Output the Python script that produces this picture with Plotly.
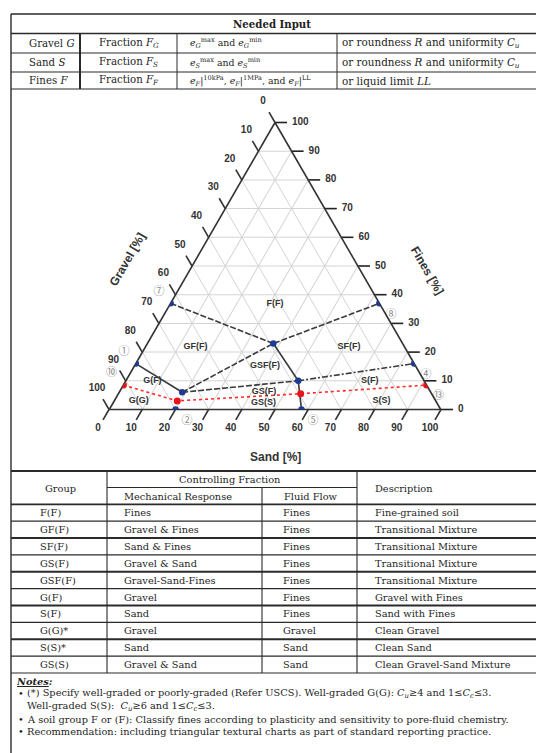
import plotly.graph_objects as go

W, H = 536, 753

# ---------------- ternary chart data (percent) ----------------
# key boundary points (blue)
pt_ids = ["①", "②", "③", "④", "⑤", "⑥", "⑦", "⑧", "⑨"]
pt_gravel = [84, 80, 75, 0, 42, 38, 63, 0, 39]
pt_sand = [0, 20, 19, 84, 58, 52, 0, 63, 38]
pt_fines = [16, 0, 6, 16, 0, 10, 37, 37, 23]
pt_textpos = ["top left", "bottom right", "top center", "bottom right",
              "bottom right", "top right", "top left", "bottom right", "top center"]

# clean / with-fines limit points (red)
red_ids = ["⑩", "⑪", "⑫", "⑬"]
red_gravel = [91.5, 78, 39.5, 0]
red_sand = [0, 19, 55, 91.5]
red_fines = [8.5, 3, 5.5, 8.5]
red_textpos = ["top left", "middle right", "bottom right", "bottom right"]

# zone boundaries, as index chains into the blue points (1-based) and dash style
boundary_paths = [([1, 3], "solid"), ([7, 9], "6px,2px"), ([9, 6], "solid"),
                  ([6, 5], "solid"), ([3, 9, 8], "6px,2px"), ([3, 6], "6px,2px"),
                  ([6, 4], "6px,2px,2px,2px")]

# zone names and their centres
zone_names = ["F(F)", "GF(F)", "SF(F)", "GSF(F)", "G(F)", "GS(F)", "G(G)", "GS(S)", "S(F)", "S(S)"]
zone_gravel = [31.5, 63, 16.7, 45.4, 82, 50.2, 89.6, 52.3, 16.4, 16.3]
zone_sand = [31.5, 15, 61.4, 39.4, 8, 43.6, 7.3, 45.3, 73.6, 80.6]
zone_fines = [37, 22, 21.9, 15.2, 10, 6.2, 3.1, 2.4, 10, 3.1]

tick_values = [0, 10, 20, 30, 40, 50, 60, 70, 80, 90, 100]

# ---------------- table contents ----------------
input_title = "Needed Input"
input_component = ["Gravel <i>G</i>", "Sand <i>S</i>", "Fines <i>F</i>"]
input_fraction = ["Fraction <i>F<sub>G</sub></i>", "Fraction <i>F<sub>S</sub></i>",
                  "Fraction <i>F<sub>F</sub></i>"]
input_voids = ["<i>e<sub>G</sub></i><sup>max</sup> and <i>e<sub>G</sub></i><sup>min</sup>",
               "<i>e<sub>S</sub></i><sup>max</sup> and <i>e<sub>S</sub></i><sup>min</sup>",
               "<i>e<sub>F</sub></i>|<sup>10kPa</sup>, <i>e<sub>F</sub></i>|<sup>1MPa</sup>"
               ", and <i>e<sub>F</sub></i>|<sup>LL</sup>"]
input_alt = ["or roundness <i>R</i> and uniformity <i>C<sub>u</sub></i>",
             "or roundness <i>R</i> and uniformity <i>C<sub>u</sub></i>",
             "or liquid limit <i>LL</i>"]

groups = ["F(F)", "GF(F)", "SF(F)", "GS(F)", "GSF(F)", "G(F)", "S(F)", "G(G)*", "S(S)*", "GS(S)"]
mechanical = ["Fines", "Gravel &amp; Fines", "Sand &amp; Fines", "Gravel &amp; Sand",
              "Gravel-Sand-Fines", "Gravel", "Sand", "Gravel", "Sand", "Gravel &amp; Sand"]
fluid = ["Fines", "Fines", "Fines", "Fines", "Fines", "Fines", "Fines", "Gravel", "Sand", "Sand"]
description = ["Fine-grained soil", "Transitional Mixture", "Transitional Mixture",
               "Transitional Mixture", "Transitional Mixture", "Gravel with Fines",
               "Sand with Fines", "Clean Gravel", "Clean Sand", "Clean Gravel-Sand Mixture"]

notes = [
    "(*) Specify well-graded or poorly-graded (Refer USCS). Well-graded G(G): "
    "<i>C<sub>u</sub></i>≥4 and 1≤<i>C<sub>c</sub></i>≤3.",
    "A soil group F or (F): Classify fines according to plasticity and sensitivity to pore-fluid chemistry.",
    "Recommendation: including triangular textural charts as part of standard reporting practice.",
]
note_cont = "Well-graded S(S):  <i>C<sub>u</sub></i>≥6 and 1≤<i>C<sub>c</sub></i>≤3."

# ---------------- helpers ----------------
SERIF = "DejaVu Serif"
SANS = "Liberation Sans"
TXT = "#1e1e1e"
LINE = "#2a2a2a"


def X(px):
    return px / W


def Y(py):
    return 1 - py / H


shapes = []
annotations = []


def hline(y, x0, x1, w=1.0):
    shapes.append(dict(type="line", xref="paper", yref="paper", x0=X(x0), x1=X(x1),
                       y0=Y(y), y1=Y(y), line=dict(color=LINE, width=w)))


def vline(x, y0, y1, w=1.0):
    shapes.append(dict(type="line", xref="paper", yref="paper", x0=X(x), x1=X(x),
                       y0=Y(y0), y1=Y(y1), line=dict(color=LINE, width=w)))


def label(x, y, text, size=9.8, anchor="left", family=SERIF, color=TXT, angle=0):
    annotations.append(dict(xref="paper", yref="paper", x=X(x), y=Y(y), text=text,
                            showarrow=False, xanchor=anchor, yanchor="middle",
                            textangle=angle, font=dict(family=family, size=size, color=color)))


# ---------------- top table ----------------
RIGHT = 540
LEFT = 11
hline(14, LEFT, RIGHT, 1.4)
hline(33.5, LEFT, RIGHT, 1.4)
hline(53, LEFT, RIGHT, 1.2)
hline(72, LEFT, RIGHT, 1.2)
hline(89, LEFT, RIGHT, 1.2)
vline(LEFT, 14, 753, 1.4)
vline(80, 33.5, 89, 2.0)
vline(177, 33.5, 89, 1.0)
vline(337, 33.5, 89, 1.0)

label(272, 24.5, "<b>" + input_title + "</b>", anchor="center", size=10.2)
row_y = [43.3, 62.5, 80.5]
for i in range(3):
    label(27, row_y[i], input_component[i], size=10.2)
    label(97, row_y[i], input_fraction[i], size=10.2)
    label(188, row_y[i], input_voids[i], size=9.4)
    label(340, row_y[i], input_alt[i], size=10.4)

# ---------------- bottom table ----------------
hline(471, LEFT, RIGHT, 1.8)
hline(487.5, 107, 357, 1.0)
hline(504.3, LEFT, RIGHT, 1.8)
row_h = 16.87
thick_after = {1, 3, 5, 7}
for i in range(len(groups)):
    yb = 504.3 + (i + 1) * row_h
    hline(yb, LEFT, RIGHT, 2.0 if i in thick_after else 1.1)
table_bottom = 504.3 + len(groups) * row_h
vline(107, 471, table_bottom, 1.1)
vline(262, 487.5, table_bottom, 1.1)
vline(357, 471, table_bottom, 1.1)

label(43, 488, "Group")
label(230, 479, "Controlling Fraction", anchor="center")
label(122, 496.5, "Mechanical Response")
label(282, 496.5, "Fluid Flow")
label(373, 488, "Description")
for i in range(len(groups)):
    yc = 504.3 + (i + 0.5) * row_h
    label(38, yc, groups[i])
    label(122, yc, mechanical[i])
    label(281, yc, fluid[i])
    label(373, yc, description[i])

label(14, 681, "<b><i><u>Notes</u>:</i></b>")
label(16, 693.7, "•")
label(25, 693.7, notes[0])
label(25, 706, note_cont)
label(16, 719.3, "•")
label(25, 719.3, notes[1])
label(16, 731.7, "•")
label(25, 731.7, notes[2])

# ---------------- ternary chart ----------------
fig = go.Figure()

# triangle geometry on the page (px)
TRI_LEFT, TRI_RIGHT, TRI_BASE, TRI_TOP = 109, 441, 409.5, 122.5
PX_PER_UNIT = (TRI_RIGHT - TRI_LEFT) / 100.0

# boundaries
for chain, dash in boundary_paths:
    idx = [c - 1 for c in chain]
    fig.add_trace(go.Scatterternary(
        a=[pt_fines[i] for i in idx], b=[pt_gravel[i] for i in idx], c=[pt_sand[i] for i in idx],
        mode="lines", line=dict(color="#3a3a3a", width=1.6, dash=dash),
        hoverinfo="skip", showlegend=False))

# red dotted limit line
fig.add_trace(go.Scatterternary(
    a=red_fines, b=red_gravel, c=red_sand, mode="lines+markers",
    line=dict(color="#ff2a2a", width=1.6, dash="dot"),
    marker=dict(color="#e8141b", size=7),
    hoverinfo="skip", showlegend=False))

# blue points
fig.add_trace(go.Scatterternary(
    a=pt_fines, b=pt_gravel, c=pt_sand, mode="markers",
    marker=dict(color="#1d3a94", size=6.5),
    hoverinfo="skip", showlegend=False))

# zone names
fig.add_trace(go.Scatterternary(
    a=zone_fines, b=zone_gravel, c=zone_sand, mode="text", text=zone_names,
    textfont=dict(family=SANS, size=9, color="#333333", weight="bold"),
    hoverinfo="skip", showlegend=False))

axis_common = dict(min=0, showticklabels=False, ticks="", dtick=10, showgrid=True,
                   gridcolor="#d4d4d4", gridwidth=1, linecolor="#333333", linewidth=1.6,
                   layer="below traces", title=dict(text=""))

# ---- overlay cartesian axes sharing the ternary's plane: x = sand - gravel, y = fines
OV_L, OV_R, OV_T, OV_B = 55, 495, 92, 447
cx = (TRI_LEFT + TRI_RIGHT) / 2
upx = PX_PER_UNIT / 2                      # px per unit of (sand - gravel)
upy = (TRI_BASE - TRI_TOP) / 100.0         # px per unit of fines
x_range = [(OV_L - cx) / upx, (OV_R - cx) / upx]
y_range = [(TRI_BASE - OV_B) / upy, (TRI_BASE - OV_T) / upy]


def to_xy(gravel, sand, fines):
    return sand - gravel, fines


def seg_trace(starts, ends, color="#333333"):
    xs, ys = [], []
    for (g0, s0, f0), (g1, s1, f1) in zip(starts, ends):
        x0, y0 = to_xy(g0, s0, f0)
        x1, y1 = to_xy(g1, s1, f1)
        xs += [x0, x1, None]
        ys += [y0, y1, None]
    return go.Scatter(x=xs, y=ys, mode="lines", line=dict(color=color, width=1.6),
                      hoverinfo="skip", showlegend=False, cliponaxis=False)


t = 12 / PX_PER_UNIT  # tick length in percent units
# gravel ticks (left edge, along constant-gravel lines)
fig.add_trace(seg_trace([(g, 0, 100 - g) for g in tick_values],
                        [(g, -t, 100 - g + t) for g in tick_values]))
# sand ticks (bottom edge, along constant-sand lines)
fig.add_trace(seg_trace([(100 - s, s, 0) for s in tick_values],
                        [(100 - s + t, s, -t) for s in tick_values]))
# fines ticks (right edge, horizontal)
fig.add_trace(seg_trace([(0, 100 - f, f) for f in tick_values],
                        [(-t, 100 - f + t, f) for f in tick_values], color="#222222"))

tickfont = dict(family=SANS, size=10, color="#333333", weight="bold")


def tick_labels(points, pos="middle center"):
    xs, ys = zip(*[to_xy(*p) for p in points])
    return go.Scatter(x=list(xs), y=list(ys), mode="text", text=[str(v) for v in tick_values],
                      textposition=pos, textfont=tickfont, hoverinfo="skip",
                      showlegend=False, cliponaxis=False)


dg = 24 / PX_PER_UNIT
fig.add_trace(tick_labels([(g, -dg, 100 - g + dg) for g in tick_values]))
ds = 22 / PX_PER_UNIT
fig.add_trace(tick_labels([(100 - s + ds, s, -ds) for s in tick_values]))
df = 17 / PX_PER_UNIT
fig.add_trace(tick_labels([(-df, 100 - f + df, f) for f in tick_values], pos="middle right"))

# circled point numbers
circ_font = dict(family="Noto Sans CJK JP", size=11, color="#8a8a8a")
bx, by = zip(*[to_xy(g, s, f) for g, s, f in zip(pt_gravel, pt_sand, pt_fines)])
fig.add_trace(go.Scatter(x=list(bx), y=list(by), mode="markers+text", text=pt_ids,
                         textposition=pt_textpos, textfont=circ_font,
                         marker=dict(size=8, color="rgba(0,0,0,0)"),
                         hoverinfo="skip", showlegend=False, cliponaxis=False))
rx, ry = zip(*[to_xy(g, s, f) for g, s, f in zip(red_gravel, red_sand, red_fines)])
fig.add_trace(go.Scatter(x=list(rx), y=list(ry), mode="markers+text", text=red_ids,
                         textposition=red_textpos, textfont=circ_font,
                         marker=dict(size=8, color="rgba(0,0,0,0)"),
                         hoverinfo="skip", showlegend=False, cliponaxis=False))

label(127, 260, "<b>Gravel [%]</b>", size=12, anchor="center", family=SANS, color="#333", angle=-60)
label(427, 270, "<b>Fines [%]</b>", size=12, anchor="center", family=SANS, color="#333", angle=60)
label(275, 456.5, "<b>Sand [%]</b>", size=12, anchor="center", family=SANS, color="#333")

fig.update_layout(
    width=W, height=H, margin=dict(l=0, r=0, t=0, b=0),
    paper_bgcolor="white", plot_bgcolor="rgba(0,0,0,0)",
    xaxis=dict(domain=[X(OV_L), X(OV_R)], range=x_range, visible=False, fixedrange=True),
    yaxis=dict(domain=[Y(OV_B), Y(OV_T)], range=y_range, visible=False, fixedrange=True),
    ternary=dict(
        sum=100, bgcolor="white",
        domain=dict(x=[X(TRI_LEFT), X(TRI_RIGHT)], y=[Y(TRI_BASE), Y(TRI_TOP)]),
        aaxis=axis_common, baxis=axis_common, caxis=axis_common),
    shapes=shapes, annotations=annotations, showlegend=False)

fig.write_html("out.html")
